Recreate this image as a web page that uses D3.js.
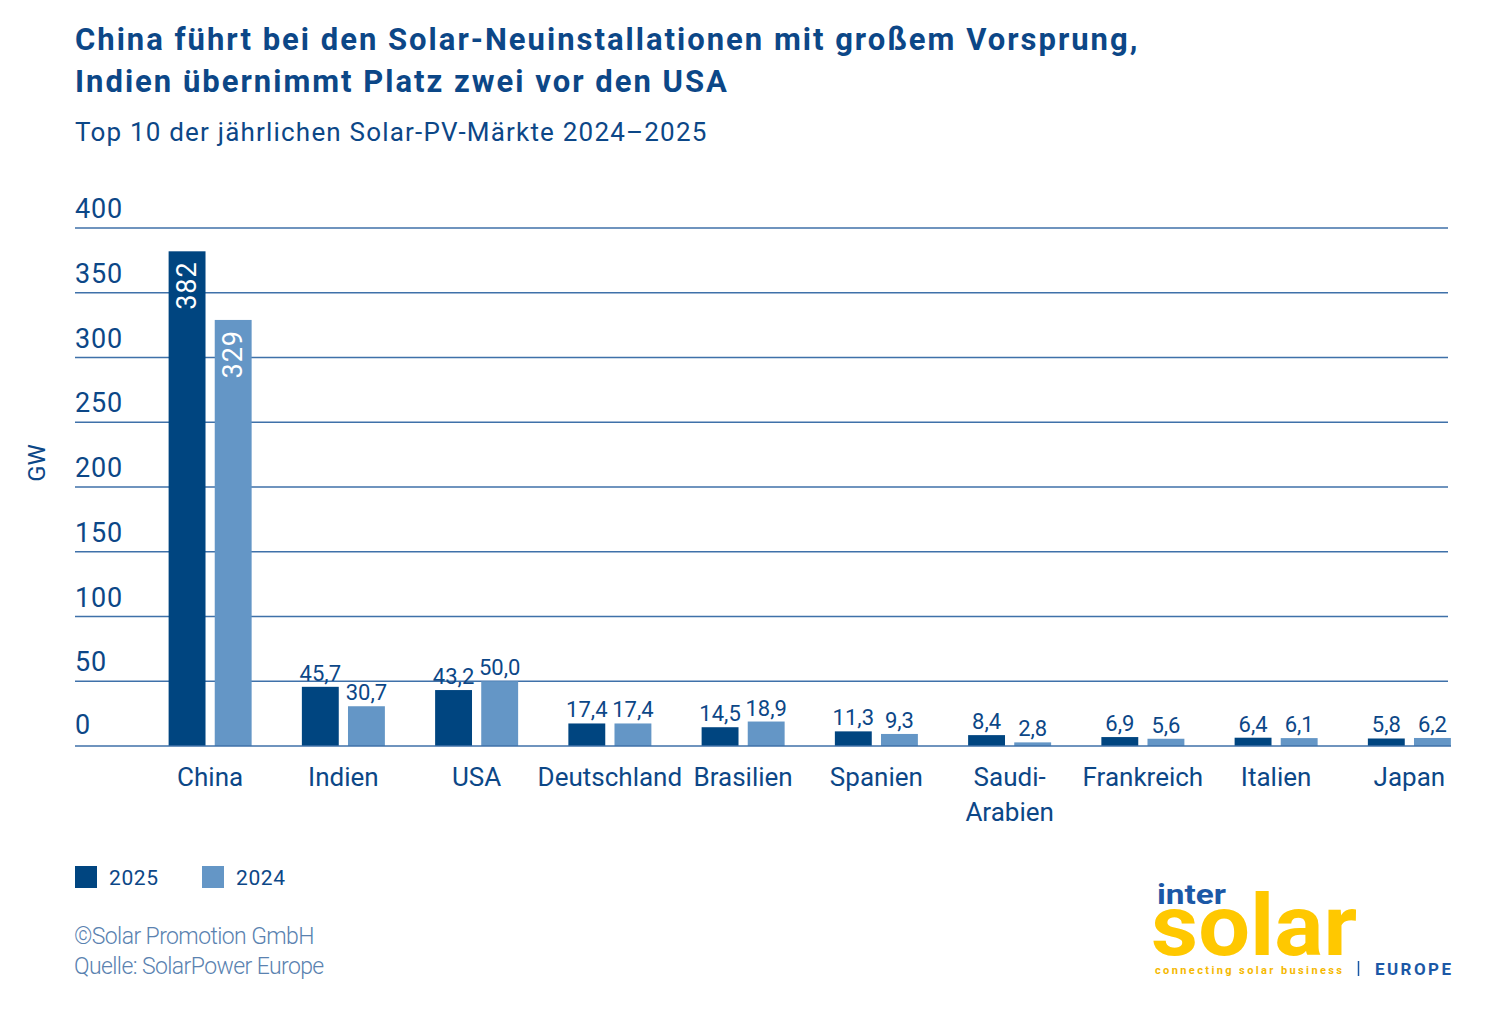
<!DOCTYPE html>
<html>
<head>
<meta charset="utf-8">
<script src="https://cdn.jsdelivr.net/npm/d3@7"></script>
<style>
  body { margin: 0; background: #fff; }
  svg text { font-family: Roboto, "Noto Sans", sans-serif; }
</style>
</head>
<body>
<svg id="chart" width="1500" height="1025"></svg>
<script>
// chart values
var categories = ['China', 'Indien', 'USA', 'Deutschland', 'Brasilien',
  'Spanien', 'Saudi-Arabien', 'Frankreich', 'Italien', 'Japan'];
var categoryLines = [['China'], ['Indien'], ['USA'], ['Deutschland'], ['Brasilien'],
  ['Spanien'], ['Saudi-', 'Arabien'], ['Frankreich'], ['Italien'], ['Japan']];
var seriesNames = ['2025', '2024'];
var values2025 = [382, 45.7, 43.2, 17.4, 14.5, 11.3, 8.4, 6.9, 6.4, 5.8];
var values2024 = [329, 30.7, 50.0, 17.4, 18.9, 9.3, 2.8, 5.6, 6.1, 6.2];
var yTicks = [0, 50, 100, 150, 200, 250, 300, 350, 400];

var C_DARK = '#004580',
    C_LIGHT = '#6496c6',
    C_TEXT = '#0c4787',
    C_GRID = '#3f71a9';

var svg = d3.select('#chart');

var m_left = 75, m_right = 1448,
    plotTop = 228, plotBottom = 746;

var y = d3.scaleLinear().domain([0, 400]).range([plotBottom, plotTop]);
var x0 = d3.scaleBand().domain(categories).range([143.5, 1476]).paddingInner(0.377).paddingOuter(0.1885);
var x1 = d3.scaleBand().domain(seriesNames).range([0, x0.bandwidth()]).paddingInner(0.2);

var rows = categories.map(function (c, i) {
  return {
    cat: c,
    lines: categoryLines[i],
    vals: [
      { key: '2025', v: values2025[i] },
      { key: '2024', v: values2024[i] }
    ]
  };
});

function fmt(v) {
  var s = v >= 100 ? d3.format('d')(v) : d3.format('.1f')(v);
  return s.replace('.', ',');
}

// title
svg.append('text')
  .attr('x', 75).attr('y', 50)
  .attr('fill', C_TEXT).attr('font-size', 31).attr('font-weight', 700)
  .attr('letter-spacing', 2)
  .text('China führt bei den Solar-Neuinstallationen mit großem Vorsprung,');
svg.append('text')
  .attr('x', 75).attr('y', 92)
  .attr('fill', C_TEXT).attr('font-size', 31).attr('font-weight', 700)
  .attr('letter-spacing', 2)
  .text('Indien übernimmt Platz zwei vor den USA');
svg.append('text')
  .attr('x', 75).attr('y', 141)
  .attr('fill', C_TEXT).attr('font-size', 26)
  .attr('letter-spacing', 1.2)
  .text('Top 10 der jährlichen Solar-PV-Märkte 2024–2025');

// grid + tick labels
var grid = svg.append('g').attr('class', 'grid');
grid.selectAll('line')
  .data(yTicks.filter(function (t) { return t > 0; }))
  .enter().append('line')
  .attr('x1', m_left).attr('x2', m_right)
  .attr('y1', function (d) { return y(d); })
  .attr('y2', function (d) { return y(d); })
  .attr('stroke', C_GRID).attr('stroke-width', 1.3);

grid.selectAll('text')
  .data(yTicks)
  .enter().append('text')
  .attr('x', m_left)
  .attr('y', function (d) { return y(d) - (d === 0 ? 12 : 10); })
  .attr('fill', C_TEXT).attr('font-size', 27)
  .attr('letter-spacing', 0.8)
  .text(function (d) { return d; });

svg.append('text')
  .attr('transform', 'translate(45,' + 463 + ') rotate(-90)')
  .attr('text-anchor', 'middle')
  .attr('fill', C_TEXT).attr('font-size', 24)
  .text('GW');

// bars
var groups = svg.append('g').selectAll('g.group')
  .data(rows)
  .enter().append('g')
  .attr('class', 'group')
  .attr('transform', function (d) { return 'translate(' + x0(d.cat) + ',0)'; });

groups.selectAll('rect')
  .data(function (d) { return d.vals; })
  .enter().append('rect')
  .attr('x', function (d) { return x1(d.key); })
  .attr('width', x1.bandwidth())
  .attr('y', function (d) { return y(d.v); })
  .attr('height', function (d) { return plotBottom - y(d.v); })
  .attr('fill', function (d) { return d.key === '2025' ? C_DARK : C_LIGHT; });

// value labels: rotated inside for tall bars, above for short
groups.selectAll('text.val')
  .data(function (d) { return d.vals; })
  .enter().append('text')
  .attr('class', 'val')
  .each(function (d) {
    var t = d3.select(this);
    var cx = x1(d.key) + x1.bandwidth() / 2;
    if (d.v > 100) {
      t.attr('transform', 'translate(' + (cx + 9) + ',' + (y(d.v) + 10) + ') rotate(-90)')
        .attr('text-anchor', 'end')
        .attr('fill', '#fff')
        .attr('font-size', 27)
        .attr('letter-spacing', 1);
    } else {
      t.attr('x', cx).attr('y', y(d.v) - 6)
        .attr('text-anchor', 'middle')
        .attr('fill', C_TEXT)
        .attr('font-size', 22);
    }
    t.text(fmt(d.v));
  });

// baseline
svg.append('line')
  .attr('x1', m_left).attr('x2', 1451)
  .attr('y1', y(0)).attr('y2', y(0))
  .attr('stroke', C_GRID).attr('stroke-width', 1.5);

// category labels
groups.append('text')
  .attr('text-anchor', 'middle')
  .attr('fill', C_TEXT).attr('font-size', 26)
  .selectAll('tspan')
  .data(function (d) { return d.lines; })
  .enter().append('tspan')
  .attr('x', x0.bandwidth() / 2)
  .attr('y', function (d, i) { return 786 + i * 35; })
  .text(function (d) { return d; });

// legend
var legend = svg.append('g').selectAll('g')
  .data(seriesNames)
  .enter().append('g')
  .attr('transform', function (d, i) { return 'translate(' + (75 + i * 127) + ',866)'; });
legend.append('rect')
  .attr('width', 22).attr('height', 22)
  .attr('fill', function (d) { return d === '2025' ? C_DARK : C_LIGHT; });
legend.append('text')
  .attr('x', 34).attr('y', 19)
  .attr('fill', C_TEXT).attr('font-size', 21)
  .attr('letter-spacing', 0.6)
  .text(function (d) { return d; });

// source
svg.append('text')
  .attr('x', 74).attr('y', 944)
  .attr('fill', '#5a82b0').attr('font-size', 23).attr('font-weight', 300)
  .attr('letter-spacing', -0.6)
  .text('©Solar Promotion GmbH');
svg.append('text')
  .attr('x', 74).attr('y', 974)
  .attr('fill', '#5a82b0').attr('font-size', 23).attr('font-weight', 300)
  .attr('letter-spacing', -0.6)
  .text('Quelle: SolarPower Europe');

// logo
var logo = svg.append('g');
logo.append('text')
  .attr('x', 1157).attr('y', 904)
  .attr('fill', '#1b58a6').attr('font-size', 28).attr('font-weight', 700)
  .attr('textLength', 69).attr('lengthAdjust', 'spacingAndGlyphs')
  .text('inter');
logo.append('text')
  .attr('x', 1151).attr('y', 955)
  .attr('fill', '#ffc800').attr('font-size', 86).attr('font-weight', 700)
  .attr('textLength', 206).attr('lengthAdjust', 'spacingAndGlyphs')
  .text('solar');
logo.append('text')
  .attr('x', 1155).attr('y', 974)
  .attr('fill', '#f5b800').attr('font-size', 11).attr('font-weight', 700)
  .attr('textLength', 187).attr('lengthAdjust', 'spacing')
  .text('connecting solar business');
logo.append('line')
  .attr('x1', 1358.5).attr('x2', 1358.5).attr('y1', 961).attr('y2', 976)
  .attr('stroke', '#1b58a6').attr('stroke-width', 1.5);
logo.append('text')
  .attr('x', 1375).attr('y', 975)
  .attr('fill', '#1b58a6').attr('font-size', 17).attr('font-weight', 700)
  .attr('textLength', 76).attr('lengthAdjust', 'spacing')
  .text('EUROPE');
</script>
</body>
</html>
